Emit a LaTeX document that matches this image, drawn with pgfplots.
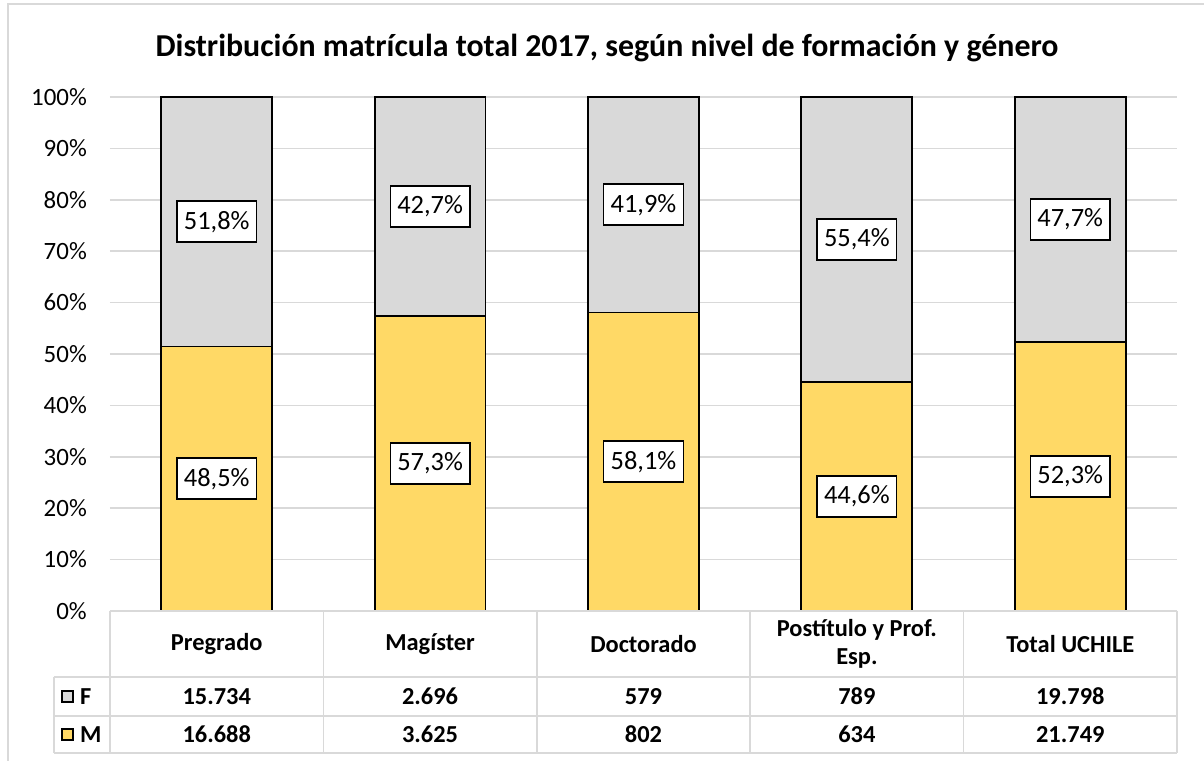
\documentclass[border=0pt]{standalone}
\usepackage{fontspec}
\setmainfont{Carlito}
\usepackage{pgfplots}
\usepackage{pgfplotstable}
\pgfplotsset{compat=1.18}
\definecolor{myyellow}{HTML}{FFD966}
\definecolor{mygray}{HTML}{D9D9D9}
\definecolor{gridgray}{HTML}{D9D9D9}

\pgfplotstableread{
x M F
0 51.47 48.53
1 57.35 42.65
2 58.07 41.93
3 44.55 55.45
4 52.35 47.65
}\bars

\pgfplotstableread{
x y lab
0 25.74 48,5\%
0 75.74 51,8\%
1 28.68 57,3\%
1 78.68 42,7\%
2 29.04 58,1\%
2 79.04 41,9\%
3 22.28 44,6\%
3 72.28 55,4\%
4 26.17 52,3\%
4 76.17 47,7\%
}\labs

\begin{document}
\begin{tikzpicture}[x=1bp,y=1bp]
\path[use as bounding box] (-110,-150) rectangle (1094,611);
\draw[gridgray, line width=1.5bp] (-102,-152) -- (-102,607) -- (1096,607);
\node[font=\fontsize{32}{38}\selectfont\bfseries] at (497,563) {Distribución matrícula total 2017, según nivel de formación y género};
\begin{axis}[at={(0,0)}, anchor=south west, width=1067bp, height=514bp, scale only axis,
  xmin=-0.5, xmax=4.5, ymin=0, ymax=100,
  ybar stacked, bar width=0.52,
  ytick={0,10,...,100},
  yticklabels={0\%,10\%,20\%,30\%,40\%,50\%,60\%,70\%,80\%,90\%,100\%},
  xtick=\empty,
  ymajorgrids, grid style={gridgray, line width=1.5bp},
  axis line style={draw=none}, tick style={draw=none},
  yticklabel style={font=\fontsize{25}{30}\selectfont, anchor=east, inner sep=0pt, xshift=-23bp},
  clip=false]
\addplot[fill=myyellow, draw=black, line width=1.8bp] table[x=x, y=M] {\bars};
\addplot[fill=mygray, draw=black, line width=1.8bp] table[x=x, y=F] {\bars};
\end{axis}
\begin{axis}[at={(0,0)}, anchor=south west, width=1067bp, height=514bp, scale only axis,
  xmin=-0.5, xmax=4.5, ymin=0, ymax=100, hide axis, clip=false]
\addplot[draw=none, mark=none, nodes near coords, point meta=explicit symbolic,
  every node near coord/.append style={anchor=center, fill=white, draw=black, line width=1.5bp,
  font=\fontsize{26.5}{31}\selectfont, inner xsep=7bp, minimum height=41bp}]
  table[x=x, y=y, meta=lab] {\labs};
\end{axis}
% data table
\begin{scope}[gridgray, line width=1.5bp]
\draw (0,0) -- (1067,0);
\draw (-56,-66) -- (1067,-66);
\draw (-56,-105) -- (1067,-105);
\draw (-56,-142) -- (1067,-142);
\draw (-56,-66) -- (-56,-142);
\foreach \i in {0,1,...,5} { \draw (213.4*\i,0) -- (213.4*\i,-142); }
\end{scope}
\begin{scope}[font=\fontsize{24.5}{28}\selectfont\bfseries]
\foreach \name [count=\i from 0] in {Pregrado,Magíster,Doctorado,{Postítulo y Prof.\\Esp.},Total UCHILE}
  { \node[align=center] at (106.7+213.4*\i,-33) {\name}; }
\foreach \v [count=\i from 0] in {15.734,2.696,579,789,19.798}
  { \node at (106.7+213.4*\i,-85.5) {\v}; }
\foreach \v [count=\i from 0] in {16.688,3.625,802,634,21.749}
  { \node at (106.7+213.4*\i,-123.5) {\v}; }
\draw[black, fill=mygray, line width=1.2bp] (-48,-91) rectangle (-37,-80);
\node[anchor=west, inner sep=0pt] at (-30,-85.5) {F};
\draw[black, fill=myyellow, line width=1.2bp] (-48,-129) rectangle (-37,-118);
\node[anchor=west, inner sep=0pt] at (-30,-123.5) {M};
\end{scope}
\end{tikzpicture}
\end{document}
